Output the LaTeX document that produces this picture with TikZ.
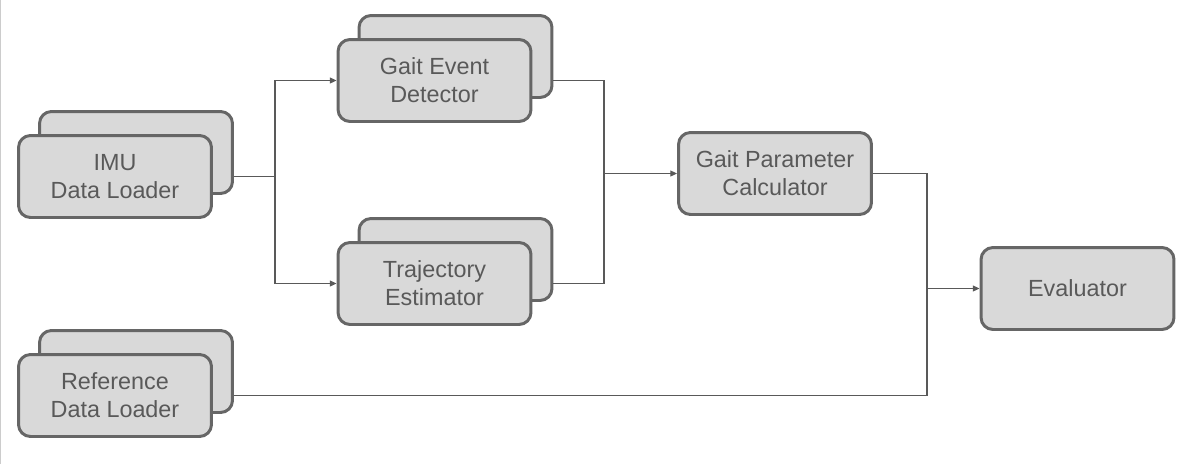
\documentclass[tikz,border=0pt]{standalone}
\usepackage{fontspec}
\setmainfont{Liberation Sans}
\usepackage{tikz}
\usetikzlibrary{positioning, arrows.meta}
\definecolor{boxfill}{RGB}{217,217,217}
\definecolor{boxline}{RGB}{102,102,102}
\definecolor{boxtext}{RGB}{89,89,89}
\definecolor{wire}{RGB}{89,89,89}
\definecolor{edgegray}{RGB}{204,204,204}
\tikzset{
  module/.style={
    draw=boxline, fill=boxfill, rounded corners=0.24cm, line width=1.7pt,
    text=boxtext, font=\fontsize{13.3}{15.8}\selectfont,
    minimum width=3.86cm, minimum height=1.64cm, align=center, inner sep=2pt
  },
  moduleback/.style={module},
  link/.style={draw=wire, line width=0.6pt},
  arrow/.style={link, -{Triangle[length=3.8pt, width=3.4pt]}}
}

\begin{document}
\begin{tikzpicture}[x=0.02cm, y=-0.02cm]
  \useasboundingbox (0,0) rectangle (1191,464);
  \draw[edgegray, line width=0.8pt] (0.6,0) -- (0.6,464);

  % stacked modules: back copy first, front copy on top
  \node[moduleback] (imuback) at (136,152.5) {};
  \node[module] (imu) at (115,176.5) {IMU\\Data Loader};
  \node[moduleback] (refback) at (136,371.5) {};
  \node[module] (ref) at (115,395.5) {Reference\\Data Loader};
  \node[moduleback] (gedback) at (455.5,56.5) {};
  \node[module] (ged) at (434.5,80.5) {Gait Event\\Detector};
  \node[moduleback] (trajback) at (455.5,259.5) {};
  \node[module] (traj) at (434.5,283.5) {Trajectory\\Estimator};
  \node[module] (calc) at (775,173.5) {Gait Parameter\\Calculator};
  \node[module] (eval) at (1077.5,288.5) {Evaluator};

  \coordinate (fork) at (275,176.5);
  \coordinate (merge) at (604,173.5);
  \coordinate (join) at (927,288.5);

  \draw[link] (imuback.east |- imu.east) -- (fork);
  \draw[arrow] (fork) |- (ged.west);
  \draw[arrow] (fork) |- (traj.west);
  \draw[link] (gedback.east |- ged.east) -| (merge);
  \draw[link] (trajback.east |- traj.east) -| (merge);
  \draw[arrow] (merge) -- (calc.west);
  \draw[link] (calc.east) -| (join);
  \draw[link] (refback.east |- ref.east) -| (join);
  \draw[arrow] (join) -- (eval.west);
\end{tikzpicture}
\end{document}
